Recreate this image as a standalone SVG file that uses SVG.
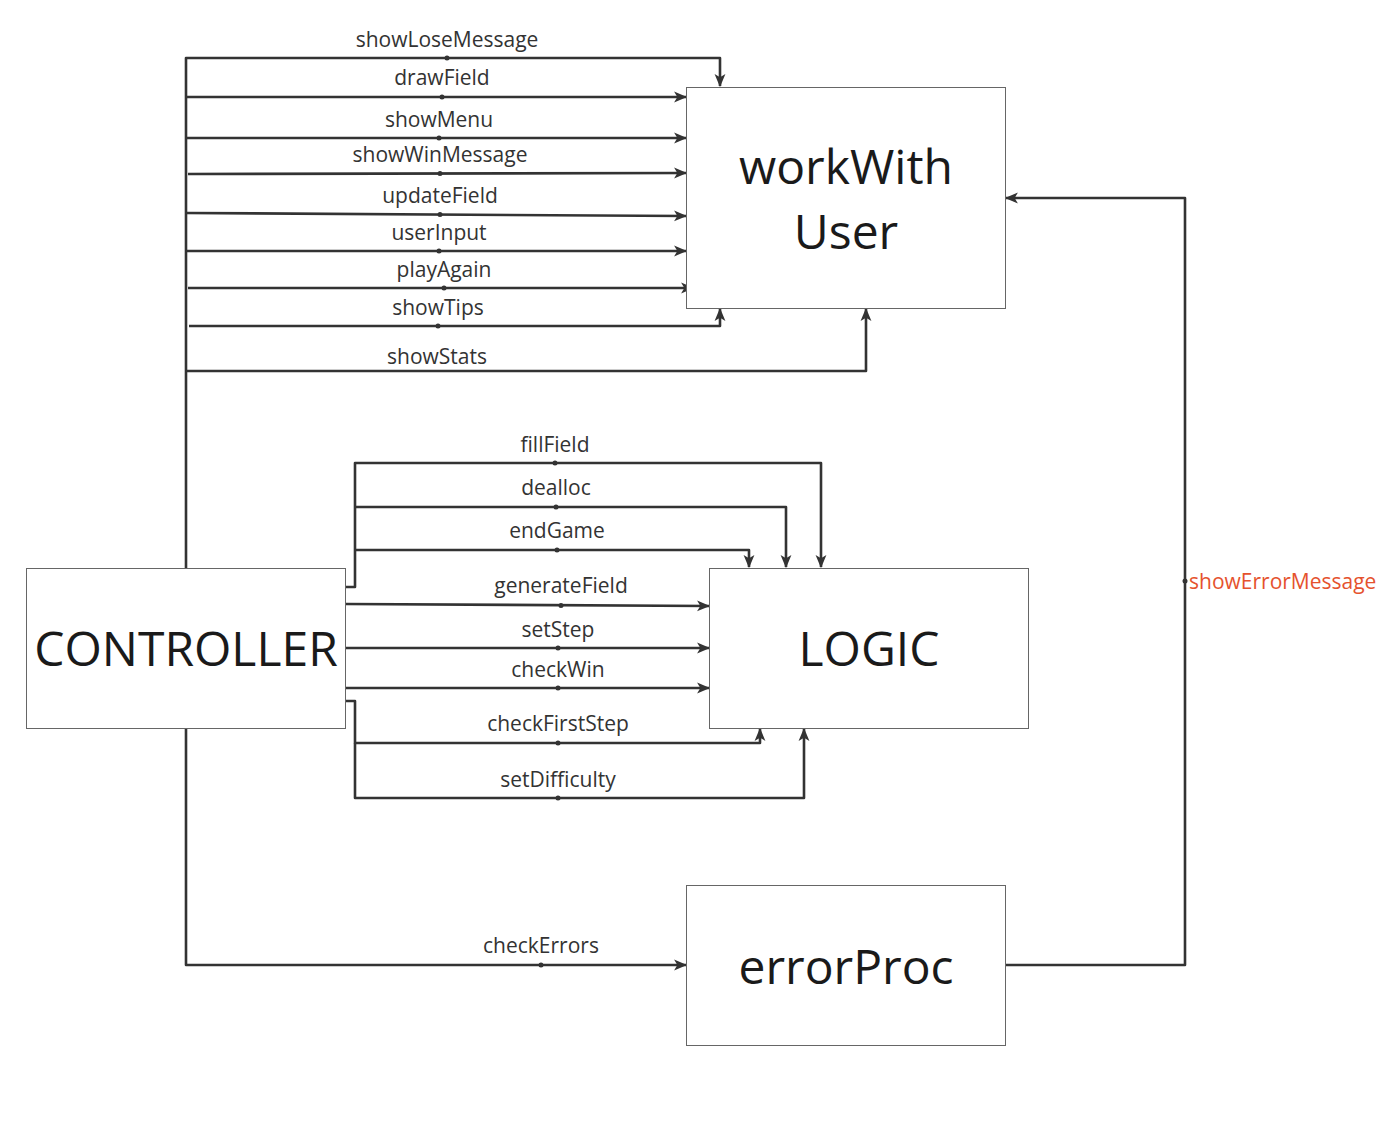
<svg xmlns="http://www.w3.org/2000/svg" width="1392" height="1121" viewBox="0 0 1392 1121">
<style>
.node{fill:#fff;stroke:#666;stroke-width:1}
.nt{font-family:"Open Sans","Liberation Sans",sans-serif;font-size:48px;fill:#1a1a1a;text-anchor:middle}
.c{fill:none;stroke:#333;stroke-width:2.6;stroke-linejoin:round}
.lbl{font-family:"Open Sans","Liberation Sans",sans-serif;font-size:21px;fill:#333;text-anchor:middle}
.red{fill:#e5522e;text-anchor:start}
.dot{fill:#333}
</style>
<defs>
<marker id="a" markerUnits="userSpaceOnUse" markerWidth="13" markerHeight="13" viewBox="0 0 12 12" refX="11" refY="6" orient="auto">
<path d="M0,1 L12,6 L0,11 L3,6 Z" fill="#333"/>
</marker>
</defs>
<rect width="1392" height="1121" fill="#fff"/>
<g id="connectors">
<path class="c" d="M186,568 V58 H720 V86" marker-end="url(#a)"/>
<path class="c" d="M186,97 H686" marker-end="url(#a)"/>
<path class="c" d="M186,138 H686" marker-end="url(#a)"/>
<path class="c" d="M188,174 L686,173" marker-end="url(#a)"/>
<path class="c" d="M186,213 L686,216" marker-end="url(#a)"/>
<path class="c" d="M186,251 H686" marker-end="url(#a)"/>
<path class="c" d="M188,288 H693" marker-end="url(#a)"/>
<path class="c" d="M189,326 H720 V309" marker-end="url(#a)"/>
<path class="c" d="M186,371 H866 V309" marker-end="url(#a)"/>
<path class="c" d="M345,587 H355 V463 H821 V567" marker-end="url(#a)"/>
<path class="c" d="M356,507 H786 V567" marker-end="url(#a)"/>
<path class="c" d="M356,550 H749 V567" marker-end="url(#a)"/>
<path class="c" d="M345,604 L709,606" marker-end="url(#a)"/>
<path class="c" d="M345,648 H709" marker-end="url(#a)"/>
<path class="c" d="M345,688 H709" marker-end="url(#a)"/>
<path class="c" d="M345,701 H355 V743 H760 V729" marker-end="url(#a)"/>
<path class="c" d="M355,743 V798 H804 V729" marker-end="url(#a)"/>
<path class="c" d="M186,728 V965 H686" marker-end="url(#a)"/>
<path class="c" d="M1005,965 H1185 V198 H1006" marker-end="url(#a)"/>
<g>
<circle class="dot" cx="447" cy="58" r="2.5"/>
<circle class="dot" cx="442" cy="97" r="2.5"/>
<circle class="dot" cx="439" cy="138" r="2.5"/>
<circle class="dot" cx="440" cy="173.5" r="2.5"/>
<circle class="dot" cx="440" cy="214.5" r="2.5"/>
<circle class="dot" cx="439" cy="251" r="2.5"/>
<circle class="dot" cx="444" cy="288" r="2.5"/>
<circle class="dot" cx="438" cy="326" r="2.5"/>
<circle class="dot" cx="555" cy="463" r="2.5"/>
<circle class="dot" cx="556" cy="507" r="2.5"/>
<circle class="dot" cx="557" cy="550" r="2.5"/>
<circle class="dot" cx="561" cy="605.5" r="2.5"/>
<circle class="dot" cx="558" cy="648" r="2.5"/>
<circle class="dot" cx="558" cy="688" r="2.5"/>
<circle class="dot" cx="558" cy="743" r="2.5"/>
<circle class="dot" cx="558" cy="798" r="2.5"/>
<circle class="dot" cx="541" cy="965" r="2.5"/>
<circle class="dot" cx="1185" cy="581" r="2.5"/>
</g>
<g>
<text class="lbl" x="447" y="47">showLoseMessage</text>
<text class="lbl" x="442" y="85">drawField</text>
<text class="lbl" x="439" y="127">showMenu</text>
<text class="lbl" x="440" y="162">showWinMessage</text>
<text class="lbl" x="440" y="203">updateField</text>
<text class="lbl" x="439" y="240">userInput</text>
<text class="lbl" x="444" y="277">playAgain</text>
<text class="lbl" x="438" y="315">showTips</text>
<text class="lbl" x="437" y="364">showStats</text>
<text class="lbl" x="555" y="452">fillField</text>
<text class="lbl" x="556" y="495">dealloc</text>
<text class="lbl" x="557" y="538">endGame</text>
<text class="lbl" x="561" y="593">generateField</text>
<text class="lbl" x="558" y="637">setStep</text>
<text class="lbl" x="558" y="677">checkWin</text>
<text class="lbl" x="558" y="731">checkFirstStep</text>
<text class="lbl" x="558" y="787">setDifficulty</text>
<text class="lbl" x="541" y="953">checkErrors</text>
<text class="lbl red" x="1189" y="589">showErrorMessage</text>
</g>
</g>
<g id="workWithUser">
<rect class="node" x="686.5" y="87.5" width="319" height="221"/>
<text class="nt" x="846" y="184">workWith</text>
<text class="nt" x="846" y="249">User</text>
</g>
<g id="controller">
<rect class="node" x="26.5" y="568.5" width="319" height="160"/>
<text class="nt" x="186" y="666">CONTROLLER</text>
</g>
<g id="logic">
<rect class="node" x="709.5" y="568.5" width="319" height="160"/>
<text class="nt" x="869" y="666">LOGIC</text>
</g>
<g id="errorProc">
<rect class="node" x="686.5" y="885.5" width="319" height="160"/>
<text class="nt" x="846" y="984">errorProc</text>
</g>
</svg>
